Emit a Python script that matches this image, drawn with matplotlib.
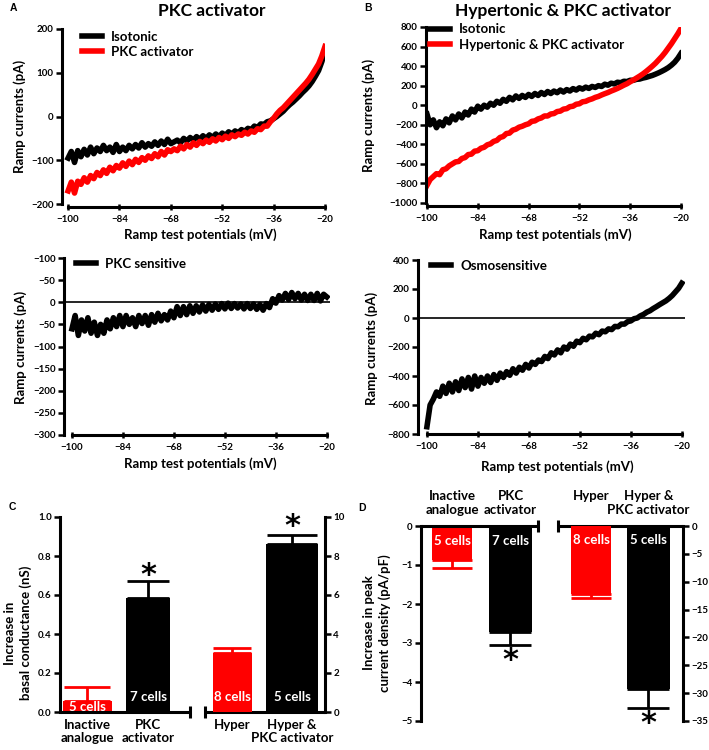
import matplotlib
matplotlib.use('Agg')
import matplotlib.pyplot as plt
import numpy as np

plt.rcParams['font.family'] = ['Lato', 'DejaVu Sans']
plt.rcParams['font.weight'] = 'bold'

RED = '#ff0000'
K = 'black'
W, H = 709, 750
FS = 9.5   # label size
TS = 7     # tick label size

# ramp potentials (mV), one reading per mV
mv = np.arange(-100, -19, 1)

# A: isotonic vs PKC activator (pA)
iso_a = [-95, -80, -105, -78, -92, -75, -88, -70, -85, -72, -80, -66, -78, -70, -82, -64,
         -80, -70, -78, -66, -74, -64, -72, -60, -70, -62, -68, -58, -66, -56, -64, -52,
         -62, -58, -54, -60, -50, -56, -48, -54, -46, -52, -44, -50, -42, -48, -40, -46,
         -38, -43, -35, -40, -33, -37, -30, -34, -27, -30, -22, -25, -17, -18, -12, -10,
         -5, 0, 6, 12, 20, 27, 33, 40, 47, 55, 62, 70, 80, 92, 105, 125, 150]
pkc_a = [-170, -150, -175, -148, -155, -140, -150, -135, -142, -128, -135, -122, -130, -116,
         -124, -112, -118, -106, -114, -102, -110, -98, -105, -94, -100, -90, -96, -85, -92,
         -80, -88, -76, -80, -74, -78, -68, -74, -64, -70, -60, -66, -57, -62, -54, -59, -51,
         -56, -48, -53, -45, -50, -42, -46, -40, -43, -36, -40, -33, -36, -28, -30, -22, -22,
         -12, -4, 6, 14, 20, 28, 36, 44, 52, 60, 68, 76, 85, 96, 108, 120, 138, 160]
# A bottom: PKC sensitive difference current (pA)
pkc_sens = [-60, -30, -75, -40, -65, -35, -70, -45, -75, -50, -70, -40, -60, -35, -55, -30,
            -55, -30, -50, -35, -55, -30, -48, -30, -52, -28, -45, -25, -42, -28, -40, -20,
            -35, -10, -30, -10, -28, -8, -25, -8, -22, -6, -20, -5, -18, -4, -16, -3, -15, -2,
            -14, -3, -13, -4, -15, -3, -14, -4, -16, -5, -18, -3, -12, 8, -2, 15, 5, 20, 6, 22,
            8, 20, 5, 18, 4, 18, 4, 20, 3, 18, 12]

# B: isotonic vs hypertonic & PKC activator (pA)
iso_b = [-90, -200, -150, -230, -170, -210, -140, -180, -110, -150, -90, -130, -70, -100,
         -40, -70, -10, -40, 0, -20, 20, 0, 40, 20, 60, 40, 80, 55, 95, 70, 100, 80, 110, 90,
         120, 100, 130, 110, 140, 120, 145, 128, 155, 135, 160, 145, 170, 155, 178, 165, 185,
         172, 192, 182, 200, 192, 215, 205, 225, 218, 235, 230, 245, 242, 255, 255, 265, 268,
         278, 285, 295, 305, 318, 332, 348, 365, 385, 410, 440, 480, 530]
hyp_b = [-820, -760, -730, -700, -710, -660, -650, -620, -600, -580, -575, -545, -535, -505,
         -500, -470, -465, -440, -430, -405, -395, -370, -360, -330, -320, -290, -285, -255,
         -245, -225, -215, -200, -190, -165, -160, -140, -130, -110, -110, -90, -85, -65, -60,
         -40, -35, -15, -10, 10, 15, 35, 40, 55, 65, 80, 90, 105, 118, 130, 145, 158, 172, 188,
         205, 220, 240, 258, 278, 298, 320, 345, 372, 400, 430, 465, 500, 540, 585, 630, 680,
         730, 785]
# B bottom: osmosensitive difference current (pA)
osmo = [-750, -600, -560, -510, -540, -470, -520, -450, -510, -440, -500, -420, -480, -410,
        -490, -400, -470, -410, -450, -400, -445, -390, -430, -380, -410, -370, -395, -350,
        -380, -340, -360, -320, -345, -305, -320, -290, -300, -265, -280, -240, -255, -220,
        -240, -200, -215, -180, -195, -160, -170, -140, -150, -125, -130, -105, -115, -90, -95,
        -75, -80, -58, -60, -42, -42, -25, -20, -5, 0, 15, 25, 40, 50, 65, 78, 92, 105, 118,
        135, 155, 180, 205, 240]

# C: increase in basal conductance (nS); left pair on left axis, right pair on right axis
c_left_vals = [0.054, 0.587]
c_left_err = [0.128, 0.671]
c_right_vals = [3.01, 8.63]
c_right_err = [3.30, 9.06]
# D: increase in peak current density (pA/pF)
d_left_vals = [-0.86, -2.73]
d_left_err = [-1.07, -3.05]
d_right_vals = [-12.2, -29.3]
d_right_err = [-12.9, -32.7]
cells_left = ['5 cells', '7 cells']
cells_right = ['8 cells', '5 cells']
groups_left = ['Inactive\nanalogue', 'PKC\nactivator']
groups_right = ['Hyper', 'Hyper &\nPKC activator']

fig = plt.figure(figsize=(W / 100, H / 100), dpi=100)


def rect(l, t, r, b):
    return [l / W, 1 - b / H, (r - l) / W, (b - t) / H]


def ftext(x, y, s, **kw):
    kw.setdefault('ha', 'center')
    kw.setdefault('va', 'center')
    kw.setdefault('fontweight', 'bold')
    fig.text(x / W, 1 - y / H, s, **kw)


def trace_axes(r, xlim, ylim, yticks, ylabels=None, outward=2):
    ax = fig.add_axes(rect(*r))
    ax.set_xlim(*xlim)
    ax.set_ylim(*ylim)
    for s in ['top', 'right']:
        ax.spines[s].set_visible(False)
    for s in ['left', 'bottom']:
        ax.spines[s].set_linewidth(2.2)
    ax.spines['bottom'].set_bounds(-100, -20)
    ax.spines['bottom'].set_position(('outward', outward))
    ax.set_xticks([-100, -84, -68, -52, -36, -20])
    ax.set_xticklabels(['\u2212100', '\u221284', '\u221268', '\u221252', '\u221236', '\u221220'])
    ax.set_yticks(yticks)
    if ylabels is None:
        ylabels = [str(v).replace('-', '\u2212') for v in yticks]
    ax.set_yticklabels(ylabels)
    ax.tick_params(axis='y', direction='out', length=4, width=1.8, labelsize=TS, pad=2)
    ax.tick_params(axis='x', direction='inout', length=4, width=1.8, labelsize=TS, pad=4)
    return ax


LW = 4
LEG = dict(loc='upper left', frameon=False, borderpad=0, borderaxespad=0, handlelength=1.5,
           handletextpad=0.7, labelspacing=0.25, prop={'size': FS, 'weight': 'bold'})

# ---- A top
ax = trace_axes((62, 29, 325, 204), (-101.9, -20), (-200, 200), [-200, -100, 0, 100, 200])
ax.plot(mv, iso_a, color=K, lw=LW, label='Isotonic')
ax.plot(mv, pkc_a, color=RED, lw=LW, label='PKC activator')
ax.legend(bbox_to_anchor=(0.075, 0.99), **LEG)
ftext(20, 116, 'Ramp currents (pA)', rotation=90, fontsize=FS)
ftext(200, 235, 'Ramp test potentials (mV)', fontsize=FS)
ftext(212, 11, 'PKC activator', fontsize=12.5)
ftext(13, 8, 'A', fontsize=7.5, family='Liberation Sans')

# ---- B top
ax = trace_axes((426, 27, 681, 203), (-100.3, -20), (-1000, 800),
                list(range(-1000, 801, 200)))
ax.plot(mv, iso_b, color=K, lw=LW, label='Isotonic')
ax.plot(mv, hyp_b, color=RED, lw=LW, label='Hypertonic & PKC activator')
ax.legend(bbox_to_anchor=(0.015, 1.02), **LEG)
ftext(369, 115, 'Ramp currents (pA)', rotation=90, fontsize=FS)
ftext(555, 235, 'Ramp test potentials (mV)', fontsize=FS)
ftext(563, 11, 'Hypertonic & PKC activator', fontsize=12.5)
ftext(368, 8, 'B', fontsize=7.5, family='Liberation Sans')

# ---- A bottom
ax = trace_axes((64, 258, 330, 435), (-102.5, -19), (-300, 100),
                [100, 50, 0, -50, -100, -150, -200, -250, -300],
                ['\u2212100', '\u221250', '0', '\u221250', '\u2212100', '\u2212150',
                 '\u2212200', '\u2212250', '\u2212300'], outward=0)
ax.axhline(0, color=K, lw=1.2)
ax.plot(mv, pkc_sens, color=K, lw=LW, label='PKC sensitive')
ax.legend(bbox_to_anchor=(0.045, 1.0), **LEG)
ftext(21, 347, 'Ramp currents (pA)', rotation=90, fontsize=FS)
ftext(200, 464, 'Ramp test potentials (mV)', fontsize=FS)

# ---- B bottom
ax = trace_axes((418, 260, 685, 434), (-102.8, -19), (-800, 400),
                list(range(-800, 401, 200)), outward=0)
ax.axhline(0, color=K, lw=1.2)
ax.plot(mv, osmo, color=K, lw=LW, label='Osmosensitive')
ax.legend(bbox_to_anchor=(0.05, 1.0), **LEG)
ftext(372, 348, 'Ramp currents (pA)', rotation=90, fontsize=FS)
ftext(557, 467, 'Ramp test potentials (mV)', fontsize=FS)

# ---- bar panels
pos = [0, 1, 2.38, 3.36]
cols = [RED, K, RED, K]


def bar_axes(r, xlim, ylim, ylim2):
    ax = fig.add_axes(rect(*r))
    ax2 = ax.twinx()
    ax.set_xlim(*xlim)
    ax.set_ylim(*ylim)
    ax2.set_ylim(*ylim2)
    for a in (ax, ax2):
        for s in ['top', 'bottom']:
            a.spines[s].set_visible(False)
        a.set_xticks([])
        a.tick_params(axis='y', direction='out', length=4, width=1.8, labelsize=TS, pad=2)
    ax.spines['left'].set_linewidth(2.2)
    ax2.spines['right'].set_linewidth(2.2)
    ax2.spines['left'].set_visible(False)
    ax.spines['right'].set_visible(False)
    return ax, ax2


def broken_axis(ax, xlim, b1, b2, y, tick):
    kw = dict(color=K, lw=2.2, clip_on=False, solid_capstyle='butt')
    ax.plot([xlim[0], b1], [y, y], **kw)
    ax.plot([b2, xlim[1]], [y, y], **kw)
    ax.plot([b1, b1], [y - tick, y + tick], **kw)
    ax.plot([b2, b2], [y - tick, y + tick], **kw)


def group_labels(ax, ypix, va):
    for i, g in enumerate(groups_left + groups_right):
        x = ax.transData.transform((pos[i], 0))[0]
        ftext(x, ypix, g, va=va, fontsize=FS, linespacing=1.15)


# ---- C
cx = (-0.45, 3.9)
axc, axc2 = bar_axes((60, 517, 325, 712), cx, (0, 1.0), (0, 10))
wc = [0.8, 0.72, 0.64, 0.85]
for i in range(2):
    axc.bar(pos[i], c_left_vals[i], width=wc[i], color=cols[i])
    axc.errorbar(pos[i], c_left_vals[i], yerr=[[0], [c_left_err[i] - c_left_vals[i]]],
                 color=cols[i], lw=2, capsize=wc[i] * 21, capthick=2)
    axc.text(pos[i], 0.026 if i == 0 else 0.077, cells_left[i], color='white',
             ha='center', va='center', fontsize=FS, fontweight='bold')
for j in range(2):
    i = j + 2
    axc2.bar(pos[i], c_right_vals[j], width=wc[i], color=cols[i])
    axc2.errorbar(pos[i], c_right_vals[j], yerr=[[0], [c_right_err[j] - c_right_vals[j]]],
                  color=cols[i], lw=2, capsize=wc[i] * 21, capthick=2)
    axc2.text(pos[i], 0.77, cells_right[j], color='white', ha='center', va='center',
              fontsize=FS, fontweight='bold')
axc.text(pos[1], 0.70, '*', ha='center', va='center', fontsize=22, fontweight='bold',
         family='DejaVu Sans')
axc2.text(pos[3], 9.5, '*', ha='center', va='center', fontsize=22, fontweight='bold',
          family='DejaVu Sans')
axc.set_yticks(np.arange(0, 1.01, 0.2))
axc.set_yticklabels(['0.0', '0.2', '0.4', '0.6', '0.8', '1.0'])
axc2.set_yticks(range(0, 11, 2))
broken_axis(axc, cx, 1.685, 1.93, 0, 0.03)
fig.canvas.draw()
group_labels(axc, 719, 'top')
ftext(18, 633, 'Increase in\nbasal conductance (nS)', rotation=90, fontsize=FS,
      linespacing=1.25)
ftext(12, 507, 'C', fontsize=7.5, family='Liberation Sans')

# ---- D
dx = (-0.53, 3.95)
axd, axd2 = bar_axes((421, 526, 683, 721), dx, (-5, 0), (-35, 0))
wd = [0.68, 0.73, 0.68, 0.73]
for i in range(2):
    axd.bar(pos[i], d_left_vals[i], width=wd[i], color=cols[i])
    axd.errorbar(pos[i], d_left_vals[i], yerr=[[d_left_vals[i] - d_left_err[i]], [0]],
                 color=cols[i], lw=2, capsize=wd[i] * 21, capthick=2)
    axd.text(pos[i], -0.38, cells_left[i], color='white', ha='center', va='center',
             fontsize=FS, fontweight='bold')
for j in range(2):
    i = j + 2
    axd2.bar(pos[i], d_right_vals[j], width=wd[i], color=cols[i])
    axd2.errorbar(pos[i], d_right_vals[j], yerr=[[d_right_vals[j] - d_right_err[j]], [0]],
                  color=cols[i], lw=2, capsize=wd[i] * 21, capthick=2)
    axd2.text(pos[i], -2.5, cells_right[j], color='white', ha='center', va='center',
              fontsize=FS, fontweight='bold')
axd.text(pos[1], -3.45, '*', ha='center', va='center', fontsize=22, fontweight='bold',
         family='DejaVu Sans')
axd2.text(pos[3], -35.5, '*', ha='center', va='center', fontsize=22, fontweight='bold',
          family='DejaVu Sans')
axd.set_yticks(range(-5, 1))
axd.set_yticklabels(['\u22125', '\u22124', '\u22123', '\u22122', '\u22121', '0'])
axd2.set_yticks(range(-35, 1, 5))
axd2.set_yticklabels([str(v).replace('-', '\u2212') for v in range(-35, 1, 5)])
broken_axis(axd, dx, 1.47, 1.81, 0, 0.15)
fig.canvas.draw()
group_labels(axd, 490, 'top')
ftext(377, 623, 'Increase in peak\ncurrent density (pA/pF)', rotation=90, fontsize=FS,
      linespacing=1.25)
ftext(362, 508, 'D', fontsize=7.5, family='Liberation Sans')

fig.savefig('out.png', dpi=100)
